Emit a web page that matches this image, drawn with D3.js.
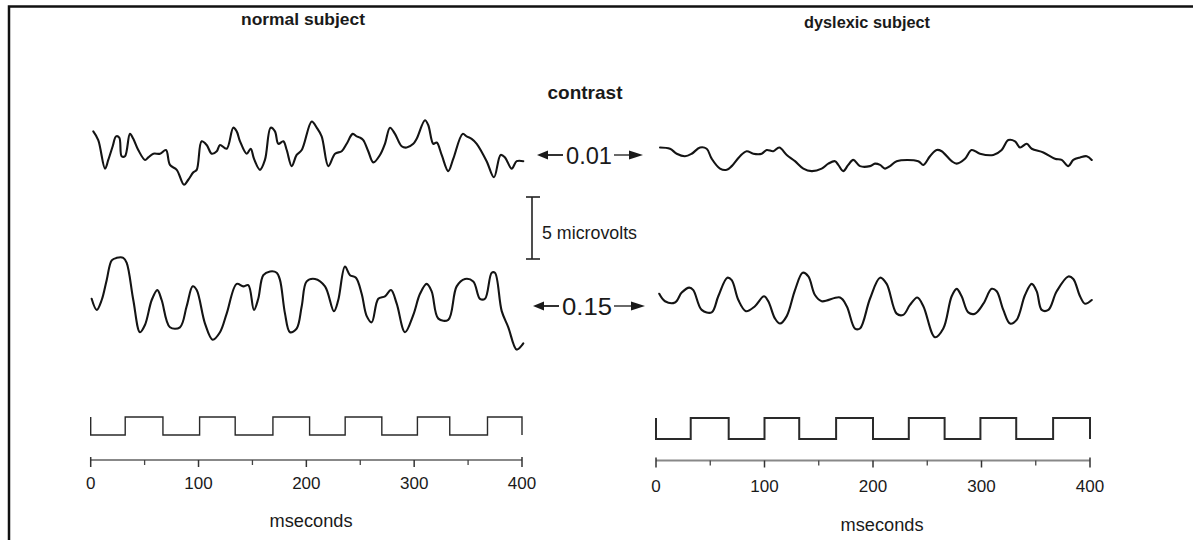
<!DOCTYPE html>
<html>
<head>
<meta charset="utf-8">
<script src="https://cdn.jsdelivr.net/npm/d3@7"></script>
<style>
  html, body { margin: 0; padding: 0; background: #fff; }
  svg { display: block; }
  text { font-family: "Liberation Sans", Arial, sans-serif; fill: #1a1a1a; }
</style>
</head>
<body>
<svg id="chart" width="1193" height="540"></svg>
<script>
// ---------------- data ----------------
const subjects = ["normal subject", "dyslexic subject"];
const contrasts = ["0.01", "0.15"];
const scaleBarMicrovolts = 5;
const timeTicks = [0, 100, 200, 300, 400];
const timeMinorTicks = [50, 150, 250, 350];
const timeLabel = "mseconds";

// evoked responses: [time in ms, amplitude in microvolts]
const normalLow = [[2.4,1.5],[7,0.8],[13.3,-1.5],[16.3,-0.8],[20.4,0.3],[23.5,1.1],[26.5,1.0],[28.7,-0.5],[31.8,-0.5],[36.4,1.3],[39.5,0.9],[44.1,0],[50.4,-0.8],[53.4,-0.6],[58.1,-0.3],[64.3,-0.3],[69.8,0],[73.5,-1.2],[79.8,-1.6],[86.5,-2.8],[90.5,-2.4],[95.2,-1.8],[98.3,-1.6],[102.9,0.7],[107.6,0.4],[112.2,-0.3],[116.9,-0.1],[119.9,0.4],[126.1,0.1],[132.2,1.8],[135.4,1.5],[138.5,0.7],[144.7,-0.3],[148.4,0.1],[151.4,-0.7],[157,-1.6],[161.6,-0.8],[166.9,1.8],[170.9,1.5],[174,0.5],[178.6,0.7],[181.8,0],[186.4,-1.3],[191,-0.4],[195.7,0],[205,2.3],[209.6,1.8],[214.2,1.1],[220.4,-1.3],[226.6,-0.3],[232.8,-0.1],[237.4,0.5],[243,1.3],[246.7,1.1],[249.8,1.0],[252.8,0.8],[257.4,-0.1],[262.1,-1.0],[268.3,-0.4],[272.9,0.5],[277.6,1.8],[282.2,1.3],[288.4,0.3],[293,0.2],[299.2,0.5],[302.3,0.9],[310,2.4],[313.1,2.0],[317.7,0.5],[320.9,0.6],[325.5,-0.4],[331.6,-1.7],[336.3,-0.7],[345,1.3],[348.7,1.1],[353.3,0.9],[358,0.5],[367.2,-0.9],[374,-2.2],[380.2,-0.4],[384.2,-0.6],[390.4,-1.5],[395.1,-0.9],[401.2,-0.9]];

const dyslexicLow = [[3.7,0.2],[12.9,0.1],[19.1,-0.3],[26.7,-0.5],[32.9,-0.3],[40.6,0.2],[46.7,0.1],[51.3,-0.7],[59,-1.5],[65.2,-1.6],[69.8,-1.3],[77.4,-0.5],[83.6,-0.1],[89.7,-0.3],[97.4,-0.3],[102,0],[108.1,-0.1],[113.6,0.2],[120.5,-0.4],[128.1,-0.9],[135.8,-1.5],[143.5,-1.7],[152.7,-1.5],[158.8,-1.1],[165,-0.9],[168,-1.2],[172.6,-1.7],[177.2,-1.2],[181.8,-0.8],[188,-1.3],[197.2,-1.3],[201.8,-1.1],[206.5,-1.2],[211.1,-1.5],[215.7,-1.3],[221.8,-0.9],[241.7,-0.9],[246.4,-1.2],[252.5,-0.5],[258.7,0],[263.3,-0.1],[272.5,-0.9],[277.1,-1.1],[284.8,-0.7],[290.9,0],[298.6,-0.3],[310.9,-0.4],[318.6,0],[324.7,0.8],[330.9,0.7],[335.5,0.2],[341.7,0.5],[346.3,0.1],[357,-0.2],[367.7,-0.7],[373.9,-0.8],[380,-1.3],[384.6,-0.8],[390.8,-0.6],[397,-0.5],[401.6,-0.8]];

const normalHigh = [[0.9,0.1],[5.6,-0.8],[10.2,0],[14.8,1.6],[19.5,3.2],[24.1,3.4],[30.2,3.4],[33.4,3.0],[39.5,0],[45.7,-2.6],[50.4,-2.0],[56.6,0],[61.8,0.8],[65.8,0],[73.5,-2.2],[82.8,-2.2],[89,-0.5],[94.6,1.1],[98.3,0.8],[106,-1.9],[113.1,-3.2],[119.9,-2.6],[126.1,-1.1],[135.4,1.3],[141.5,1.1],[146.2,1.2],[151.4,-0.8],[155.4,0.1],[160.1,2.0],[166.3,2.3],[172.5,2.2],[175.6,1.6],[180.2,-1.1],[184.8,-2.6],[191,-2.3],[195.7,-0.5],[200.3,1.5],[208,1.7],[217.3,1.1],[225.6,-0.9],[229.6,0],[235.8,2.7],[240.5,2.0],[246,1.8],[251.3,0.5],[256,-1.3],[260.6,-1.8],[266.7,0.1],[272.9,0.3],[278.5,0.8],[283.8,-0.3],[291.5,-2.6],[299.2,-1.2],[305.4,0.5],[311.6,1.3],[316.2,0.7],[322.4,-1.5],[331.6,-1.6],[339.4,1.1],[347.1,1.7],[354.8,1.5],[361,0.1],[365.7,0.1],[371.9,2.2],[374.9,2.2],[381.2,-0.9],[387.3,-2.2],[395.1,-4.0],[401.2,-3.5]];

const dyslexicHigh = [[3,0.5],[8.3,-0.1],[17.5,-0.2],[23.7,0.6],[30.7,1.0],[34.4,0.8],[42.1,-0.8],[51.3,-1.0],[57.4,0.3],[65.7,1.8],[69.8,1.6],[75.9,0],[82.9,-0.9],[91.2,-0.5],[99.5,0.3],[103.5,-0.1],[109.7,-1.5],[114.3,-1.9],[120.5,-1.3],[128.1,0.8],[135.2,2.2],[140.4,1.9],[146.5,0.4],[152.7,-0.1],[169.6,0.2],[175.8,-0.5],[183.4,-2.3],[188,-2.3],[197.2,0.1],[206.5,1.8],[212.6,1.3],[221.8,-1.1],[227.9,-1.2],[234.1,-0.4],[240.8,0.2],[246.4,-0.5],[257.1,-3.0],[264.8,-2.3],[272.5,0.3],[277.1,0.9],[281.7,0.3],[287.8,-1.0],[294,-1.1],[301.7,-0.3],[309.4,0.9],[314,0.7],[320.1,-0.8],[326.3,-1.9],[332.4,-1.6],[340.1,0.4],[346.3,1.3],[350.9,0.7],[355.5,-0.8],[361.6,-0.8],[369.3,0.7],[380,1.9],[384.6,1.7],[390.8,0.3],[395.4,-0.3],[401.6,0]];

// stimulus reversal times (ms); the square wave toggles at each
const normalStimEdges = [0, 32, 67, 101, 134, 169, 203, 236, 270, 303, 333, 368, 400];
const dyslexicStimEdges = [0, 32, 67, 100, 132, 166, 200, 233, 266, 299, 332, 366, 400];

// ---------------- drawing ----------------
const svg = d3.select("#chart");
svg.append("rect").attr("width", 1193).attr("height", 540).attr("fill", "#fff");

// frame (top + left)
svg.append("path").attr("d", "M9,540 V6.5 H1193")
  .attr("fill", "none").attr("stroke", "#111").attr("stroke-width", 2.5);

const panels = [
  { title: subjects[0], low: normalLow, high: normalHigh, edges: normalStimEdges,
    x0: 90.7, x1: 522, titleX: 303, titleY: 25, titleW: 124,
    stimTop: 417, stimBot: 435, stimW: 1.4, axisY: 460, labelY: 489, msX: 311, msY: 527 },
  { title: subjects[1], low: dyslexicLow, high: dyslexicHigh, edges: dyslexicStimEdges,
    x0: 656, x1: 1090, titleX: 867, titleY: 28, titleW: 126,
    stimTop: 418, stimBot: 439, stimW: 2, axisY: 460.5, labelY: 492, msX: 882, msY: 531 }
];

const rowCenters = [150, 300];
const pxPerMicrovolt = 12.4;

panels.forEach(p => {
  const x = d3.scaleLinear().domain([0, 400]).range([p.x0, p.x1]);

  // title
  svg.append("text").attr("x", p.titleX).attr("y", p.titleY)
    .attr("text-anchor", "middle").attr("font-size", 17).attr("font-weight", "bold")
    .attr("textLength", p.titleW).attr("lengthAdjust", "spacingAndGlyphs")
    .text(p.title);

  // traces
  [p.low, p.high].forEach((series, i) => {
    const c = rowCenters[i];
    const y = d3.scaleLinear().domain([-5, 5])
      .range([c + 5 * pxPerMicrovolt, c - 5 * pxPerMicrovolt]);
    const line = d3.line().x(d => x(d[0])).y(d => y(d[1])).curve(d3.curveCatmullRom.alpha(0.5));
    svg.append("path").datum(series).attr("d", line)
      .attr("fill", "none").attr("stroke", "#141414").attr("stroke-width", 2.1)
      .attr("stroke-linejoin", "round").attr("stroke-linecap", "round");
  });

  // stimulus square wave
  const ys = d3.scaleLinear().domain([0, 1]).range([p.stimBot, p.stimTop]);
  const pts = [];
  let level = 1;
  p.edges.forEach(e => { pts.push([e, level]); level = 1 - level; pts.push([e, level]); });
  svg.append("path").datum(pts)
    .attr("d", d3.line().x(d => x(d[0])).y(d => ys(d[1])))
    .attr("fill", "none").attr("stroke", "#2a2a2a").attr("stroke-width", p.stimW);

  // time axis
  const ax = svg.append("g");
  ax.append("line").attr("x1", x(0)).attr("x2", x(400))
    .attr("y1", p.axisY).attr("y2", p.axisY)
    .attr("stroke", "#888").attr("stroke-width", 2.2);
  timeTicks.forEach(t => {
    ax.append("line").attr("x1", x(t)).attr("x2", x(t))
      .attr("y1", p.axisY - ((t === 0 || t === 400) ? 3 : 0)).attr("y2", p.axisY + 7)
      .attr("stroke", "#333").attr("stroke-width", 1.5);
    ax.append("text").attr("x", x(t)).attr("y", p.labelY)
      .attr("text-anchor", "middle").attr("font-size", 17).text(t);
  });
  timeMinorTicks.forEach(t => {
    ax.append("line").attr("x1", x(t)).attr("x2", x(t))
      .attr("y1", p.axisY).attr("y2", p.axisY + 5)
      .attr("stroke", "#444").attr("stroke-width", 1.3);
  });
  svg.append("text").attr("x", p.msX).attr("y", p.msY)
    .attr("text-anchor", "middle").attr("font-size", 18)
    .attr("textLength", 83).attr("lengthAdjust", "spacingAndGlyphs")
    .text(timeLabel);
});

// centre annotations
svg.append("text").attr("x", 585).attr("y", 99)
  .attr("text-anchor", "middle").attr("font-size", 19).attr("font-weight", "bold")
  .attr("textLength", 75).attr("lengthAdjust", "spacingAndGlyphs").text("contrast");

function contrastArrow(cy, label, tipL, tipR, textX0, textX1) {
  const g = svg.append("g");
  g.append("path").attr("d", `M${tipL},${cy} L${tipL + 11},${cy - 4.5} L${tipL + 11},${cy + 4.5} Z`).attr("fill", "#1a1a1a");
  g.append("line").attr("x1", tipL + 10).attr("x2", textX0 - 3).attr("y1", cy).attr("y2", cy)
    .attr("stroke", "#1a1a1a").attr("stroke-width", 1.8);
  g.append("text").attr("x", (textX0 + textX1) / 2).attr("y", cy + 9)
    .attr("text-anchor", "middle").attr("font-size", 24)
    .attr("textLength", textX1 - textX0).attr("lengthAdjust", "spacingAndGlyphs").text(label);
  g.append("line").attr("x1", textX1 + 2).attr("x2", tipR - 10).attr("y1", cy).attr("y2", cy)
    .attr("stroke", "#1a1a1a").attr("stroke-width", 1.3);
  g.append("path").attr("d", `M${tipR},${cy} L${tipR - 14},${cy - 4.5} L${tipR - 14},${cy + 4.5} Z`).attr("fill", "#1a1a1a");
}
contrastArrow(155, contrasts[0], 537, 643, 566, 612);
contrastArrow(306, contrasts[1], 533, 645, 562, 612);

// 5 microvolt scale bar
const sbY = d3.scaleLinear().domain([0, scaleBarMicrovolts]).range([259, 259 - scaleBarMicrovolts * pxPerMicrovolt]);
const sb = svg.append("g").attr("stroke", "#222").attr("stroke-width", 1.6);
sb.append("line").attr("x1", 532).attr("x2", 532).attr("y1", sbY(0)).attr("y2", sbY(scaleBarMicrovolts));
sb.append("line").attr("x1", 526).attr("x2", 540).attr("y1", sbY(0)).attr("y2", sbY(0));
sb.append("line").attr("x1", 526).attr("x2", 540).attr("y1", sbY(scaleBarMicrovolts)).attr("y2", sbY(scaleBarMicrovolts));
svg.append("text").attr("x", 542).attr("y", 239).attr("font-size", 17.5)
  .attr("textLength", 95).attr("lengthAdjust", "spacingAndGlyphs")
  .text(scaleBarMicrovolts + " microvolts");
</script>
</body>
</html>
